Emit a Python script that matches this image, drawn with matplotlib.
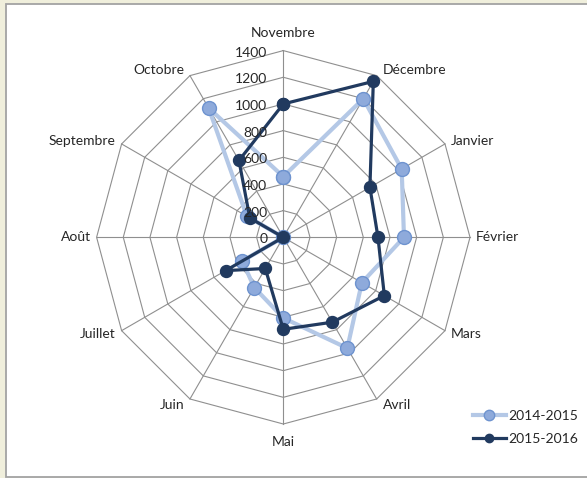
import numpy as np
import matplotlib
matplotlib.use("Agg")
import matplotlib.pyplot as plt
from matplotlib.lines import Line2D
from matplotlib.patches import Rectangle

plt.rcParams['font.family'] = ['Lato', 'DejaVu Sans']

# monthly totals, season starts in November
months = ['Novembre', 'Décembre', 'Janvier', 'Février', 'Mars', 'Avril',
          'Mai', 'Juin', 'Juillet', 'Août', 'Septembre', 'Octobre']
season_2014 = [455, 1200, 1025, 905, 680, 960, 605, 435, 355, 0, 315, 1120]
season_2015 = [1000, 1350, 750, 710, 875, 735, 690, 270, 500, 0, 290, 665]
r_ticks = [0, 200, 400, 600, 800, 1000, 1200, 1400]

light_line = '#B4C8E6'
light_face = '#8EAADB'
light_edge = '#6E93CF'
dark = '#213A5F'
grid_col = '#8F8F8F'
text_col = '#262626'

W, H = 587, 478
fig = plt.figure(figsize=(W / 100, H / 100), dpi=100, facecolor='#F0EFDC')

# white chart area with grey frame
fig.patches.append(Rectangle((6 / W, 1 - 477 / H), 600 / W, 473 / H,
                             transform=fig.transFigure, facecolor='white',
                             edgecolor='#A3A3A3', lw=1.3, zorder=-1))

cx, cy, rad = 283.3, 237.3, 186.7
ax = fig.add_axes([(cx - rad) / W, 1 - (cy + rad) / H, 2 * rad / W, 2 * rad / H],
                  projection='polar')
ax.set_theta_zero_location('N')
ax.set_theta_direction(-1)
ax.set_ylim(0, r_ticks[-1])
ax.set_xticks([])
ax.set_yticks([])
ax.grid(False)
ax.spines['polar'].set_visible(False)
ax.patch.set_alpha(0)

theta = np.arange(len(months)) * 2 * np.pi / len(months)
closed = np.append(theta, theta[0])

# polygon web
for r in r_ticks[1:]:
    ax.plot(closed, [r] * len(closed), color=grid_col, lw=0.8, zorder=1, clip_on=False)
for t in theta:
    ax.plot([t, t], [0, r_ticks[-1]], color=grid_col, lw=0.8, zorder=1, clip_on=False)

ax.plot(closed, season_2014 + season_2014[:1], color=light_line, lw=3.0,
        marker='o', ms=10, mfc=light_face, mec=light_edge, mew=1.0,
        zorder=3, clip_on=False)
ax.plot(closed, season_2015 + season_2015[:1], color=dark, lw=2.3,
        marker='o', ms=8.6, mfc=dark, mec=dark, zorder=4, clip_on=False)

# radial value labels along the top spoke
for v in r_ticks:
    ax.annotate(str(v), xy=(0, v), xytext=(-16, -2), textcoords='offset pixels',
                ha='right', va='center', fontsize=10, color=text_col, zorder=6)

# month names around the web
for t, name in zip(theta, months):
    s, c = np.sin(t), np.cos(t)
    if abs(s) < 0.01:
        off = (0, 17.6 * np.sign(c))
        ha = 'center'
    else:
        off = (6 * np.sign(s), 6.5 * c)
        ha = 'left' if s > 0 else 'right'
    ax.annotate(name, xy=(t, r_ticks[-1]), xytext=off, textcoords='offset pixels',
                ha=ha, va='center', fontsize=10, color=text_col,
                annotation_clip=False)

handles = [
    Line2D([], [], color=light_line, lw=3.0, marker='o', ms=7.5,
           mfc=light_face, mec=light_edge, mew=1.0),
    Line2D([], [], color=dark, lw=2.3, marker='o', ms=6, mfc=dark, mec=dark),
]
fig.legend(handles, ['2014-2015', '2015-2016'], loc='center left',
           bbox_to_anchor=(472.7 / W, 1 - 427.5 / H), frameon=False,
           fontsize=10, handlelength=2.37, handletextpad=0.17,
           labelspacing=0.8, borderpad=0, borderaxespad=0,
           labelcolor=text_col)

fig.savefig('out.png', dpi=100, facecolor=fig.get_facecolor())
